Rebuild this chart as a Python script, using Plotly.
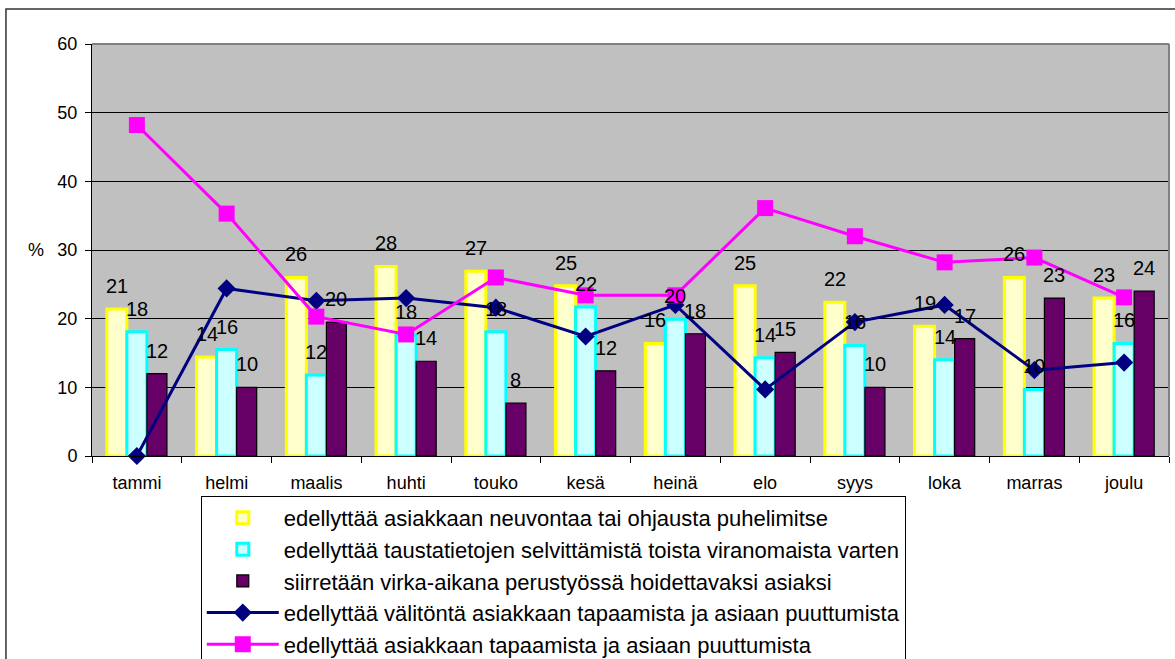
import plotly.graph_objects as go

months = ["tammi", "helmi", "maalis", "huhti", "touko", "kesä", "heinä", "elo", "syys", "loka", "marras", "joulu"]

neuvonta = [21.4, 14.4, 26.0, 27.6, 26.9, 24.8, 16.4, 24.8, 22.4, 18.9, 26.0, 23.0]
taustatiedot = [18.1, 15.5, 11.8, 17.6, 18.1, 21.7, 19.9, 14.3, 16.1, 14.0, 9.7, 16.4]
siirretaan = [12.0, 10.0, 19.5, 13.8, 7.7, 12.4, 17.8, 15.1, 10.0, 17.1, 23.0, 24.0]
valiton = [0.0, 24.4, 22.6, 23.0, 21.6, 17.4, 22.0, 9.7, 19.5, 22.0, 12.5, 13.6]
tapaaminen = [48.2, 35.3, 20.3, 17.7, 26.0, 23.4, 23.4, 36.1, 32.0, 28.2, 28.9, 23.1]

names = [
    "edellyttää asiakkaan neuvontaa tai ohjausta puhelimitse",
    "edellyttää taustatietojen selvittämistä toista viranomaista varten",
    "siirretään virka-aikana perustyössä hoidettavaksi asiaksi",
    "edellyttää välitöntä asiakkaan tapaamista ja asiaan puuttumista",
    "edellyttää asiakkaan tapaamista ja asiaan puuttumista",
]

FONT = "Arial, Liberation Sans, sans-serif"
W, H = 1175, 659
ML, MR, MT, MB = 92, 6, 44, 203
BARGAP = 0.33
plot_w = W - ML - MR
bar_px = plot_w / len(months) * (1 - BARGAP) / 3

fig = go.Figure()

bar_specs = [
    (neuvonta, "#FFFFCC", "#FFFF00", 3),
    (taustatiedot, "#CCFFFF", "#00FFFF", 3),
    (siirretaan, "#660066", "#000000", 1.2),
]
annotations = []
for i, (vals, fill, line, lw) in enumerate(bar_specs):
    fig.add_trace(go.Bar(
        x=months, y=vals, name=names[i],
        marker=dict(color=fill, line=dict(color=line, width=lw)),
        legendgroup=f"g{i}",
    ))
    for m, v in zip(months, vals):
        annotations.append(dict(
            x=m, y=v, xref="x", yref="y", text=f"{v:.0f}", showarrow=False,
            xanchor="center", yanchor="bottom", xshift=(i - 1) * bar_px, yshift=10,
            font=dict(family=FONT, size=20, color="#000000"),
        ))

fig.add_trace(go.Scatter(
    x=months, y=valiton, name=names[3], mode="lines+markers",
    line=dict(color="#000080", width=3),
    marker=dict(symbol="diamond", size=14, color="#000080"),
    cliponaxis=False, legendgroup="g3",
))
fig.add_trace(go.Scatter(
    x=months, y=tapaaminen, name=names[4], mode="lines+markers",
    line=dict(color="#FF00FF", width=3),
    marker=dict(symbol="square", size=16, color="#FF00FF"),
    cliponaxis=False, legendgroup="g4",
))

annotations.append(dict(
    text="%", xref="paper", yref="y", x=-0.052, y=30, xanchor="center", yanchor="middle",
    showarrow=False, font=dict(family=FONT, size=18, color="#000000"),
))

fig.update_layout(
    width=W, height=H,
    margin=dict(l=ML, r=MR, t=MT, b=MB, autoexpand=False),
    paper_bgcolor="#FFFFFF", plot_bgcolor="#C0C0C0",
    barmode="group", bargap=BARGAP, bargroupgap=0,
    font=dict(family=FONT, size=18, color="#000000"),
    showlegend=True,
    legend=dict(
        x=0.101, xanchor="left", y=-0.097, yanchor="top",
        bgcolor="#FFFFFF", bordercolor="#000000", borderwidth=1,
        font=dict(family=FONT, size=22, color="#000000"),
        traceorder="normal", tracegroupgap=0, itemwidth=72,
    ),
    xaxis=dict(
        type="category", range=[-0.5, len(months) - 0.5],
        showline=True, linecolor="#000000", linewidth=1,
        ticks="outside", ticklen=6, tickcolor="#000000", tickson="boundaries",
        showgrid=False, tickfont=dict(family=FONT, size=18), ticklabelstandoff=10,
    ),
    yaxis=dict(
        range=[0, 60], dtick=10, showline=True, linecolor="#000000", linewidth=1,
        ticks="outside", ticklen=6, tickcolor="#000000",
        showgrid=True, gridcolor="#000000", gridwidth=1, zeroline=False,
        tickfont=dict(family=FONT, size=18), ticklabelstandoff=4,
    ),
    shapes=[
        dict(type="line", xref="paper", yref="paper", x0=0, x1=1, y0=1, y1=1,
             line=dict(color="#808080", width=2)),
        dict(type="line", xref="paper", yref="paper", x0=1, x1=1, y0=0, y1=1,
             line=dict(color="#808080", width=2)),
        dict(type="rect", xref="paper", yref="paper", x0=-0.0799, x1=1.02, y0=-0.7, y1=1.085,
             line=dict(color="#333333", width=1.5), layer="below"),
    ],
    annotations=annotations,
)

fig.write_html("out.html", config={"displayModeBar": False},
               post_script="document.body.style.margin='0px';")
